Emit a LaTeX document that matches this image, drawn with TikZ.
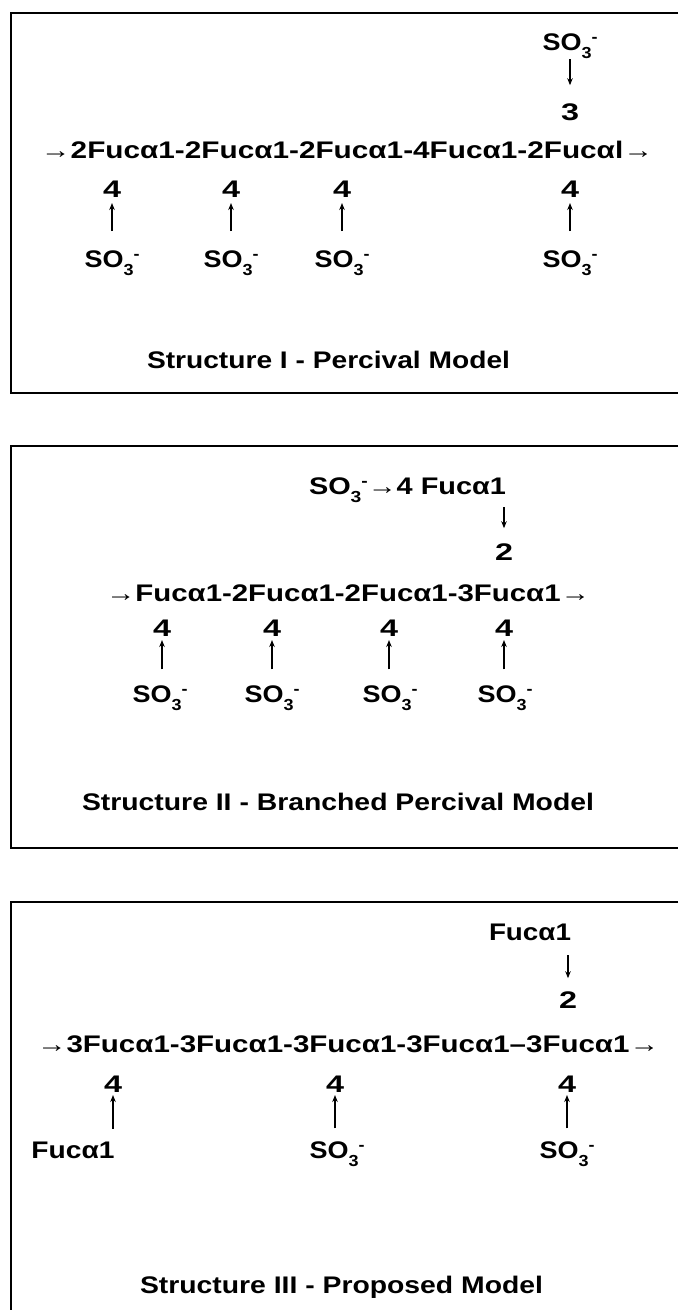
\documentclass[tikz,border=0pt]{standalone}
\usepackage{fontspec}
\setmainfont{Liberation Sans}
\usepackage{graphicx}
\usetikzlibrary{arrows.meta}
\newcommand\fw[2]{\resizebox{#1pt}{\height}{#2}}
\newcommand\sothree{SO\raisebox{-8pt}{\fontsize{16}{16}\selectfont 3}\raisebox{8pt}{\fontsize{16}{16}\selectfont -}}
\begin{document}
\begin{tikzpicture}[x=1pt,y=-1pt,
  every node/.style={inner sep=0pt, outer sep=0pt, anchor=base, font=\fontsize{24}{28}\selectfont\bfseries},
  boxline/.style={line width=2.6pt},
  arr/.style={line width=1.8pt, -{Stealth[length=7pt,width=5.5pt]}}]
\useasboundingbox (0,0) rectangle (678,1310);
\fill[white] (0,0) rectangle (678,1310);

% ---------- Box 1 ----------
\draw[boxline] (678,13) -- (11,13) -- (11,393) -- (678,393);
\node (a0) at (570,50) {\fw{55}{\sothree}};
\node (a3) at (570,120) {\fw{18}{3}};
\node[anchor=base west] (achain) at (41,158) {\fw{612}{→2Fucα1-2Fucα1-2Fucα1-4Fucα1-2Fucαl→}};
\node (a41) at (112,197) {\fw{18}{4}};
\node (a42) at (231,197) {\fw{18}{4}};
\node (a43) at (342,197) {\fw{18}{4}};
\node (a44) at (570,197) {\fw{18}{4}};
\node (as1) at (112,267) {\fw{55}{\sothree}};
\node (as2) at (231,267) {\fw{55}{\sothree}};
\node (as3) at (342,267) {\fw{55}{\sothree}};
\node (as4) at (570,267) {\fw{55}{\sothree}};
\node[anchor=base west] (atitle) at (147,368) {\fw{363}{Structure I - Percival Model}};
\draw[arr, shorten <=1pt, shorten >=18pt] (a0.south) -- (a3.north);
\foreach \i in {1,...,4}{
  \draw[arr, shorten <=19pt, shorten >=6pt] (as\i.north) -- (a4\i.south);
}

% ---------- Box 2 ----------
\draw[boxline] (678,446) -- (11,446) -- (11,848) -- (678,848);
\node[anchor=base west] (btop) at (309,494) {\fw{197}{\sothree→4 Fucα1}};
\node (b2) at (504,560) {\fw{18}{2}};
\node[anchor=base west] (bchain) at (106,601) {\fw{484}{→Fucα1-2Fucα1-2Fucα1-3Fucα1→}};
\node (b41) at (162,636) {\fw{18}{4}};
\node (b42) at (272,636) {\fw{18}{4}};
\node (b43) at (389,636) {\fw{18}{4}};
\node (b44) at (504,636) {\fw{18}{4}};
\node (bs1) at (160,702) {\fw{55}{\sothree}};
\node (bs2) at (272,702) {\fw{55}{\sothree}};
\node (bs3) at (390,702) {\fw{55}{\sothree}};
\node (bs4) at (505,702) {\fw{55}{\sothree}};
\node[anchor=base west] (btitle) at (82,810) {\fw{512}{Structure II - Branched Percival Model}};
\draw[arr, shorten <=5pt, shorten >=15pt] (btop.south -| b2.north) -- (b2.north);
\foreach \i in {1,...,4}{
  \draw[arr, shorten <=16pt, shorten >=4pt] (bs\i.north -| b4\i.south) -- (b4\i.south);
}

% ---------- Box 3 ----------
\draw[boxline] (678,902) -- (11,902) -- (11,1312);
\node (ctop) at (530,940) {\fw{82}{Fucα1}};
\node (c2) at (568,1008) {\fw{18}{2}};
\node[anchor=base west] (cchain) at (37,1052) {\fw{622}{→3Fucα1-3Fucα1-3Fucα1-3Fucα1–3Fucα1→}};
\node (c41) at (113,1092) {\fw{18}{4}};
\node (c42) at (335,1092) {\fw{18}{4}};
\node (c43) at (567,1092) {\fw{18}{4}};
\node (cf) at (73,1158) {\fw{83}{Fucα1}};
\node (cs2) at (337,1158) {\fw{55}{\sothree}};
\node (cs3) at (567,1158) {\fw{55}{\sothree}};
\node[anchor=base west] (ctitle) at (140,1293) {\fw{403}{Structure III - Proposed Model}};
\draw[arr, shorten <=15pt, shorten >=13pt] (ctop.south -| c2.north) -- (c2.north);
\draw[arr, shorten <=13pt, shorten >=3pt] (cf.north -| c41.south) -- (c41.south);
\draw[arr, shorten <=13pt, shorten >=3pt] (cs2.north -| c42.south) -- (c42.south);
\draw[arr, shorten <=13pt, shorten >=3pt] (cs3.north -| c43.south) -- (c43.south);
\end{tikzpicture}
\end{document}
